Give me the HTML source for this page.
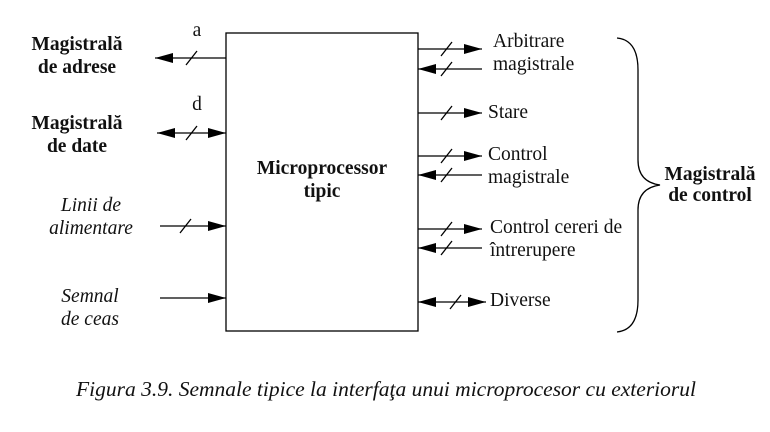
<!DOCTYPE html>
<html><head><meta charset="utf-8"><style>
body{margin:0;background:#fff}
svg{display:block}
text{font-family:"Liberation Serif",serif;fill:#111}
.b{font-weight:bold;font-size:19.5px}
.i{font-style:italic;font-size:19.5px}
.n{font-size:19.5px}
</style></head><body>
<svg width="770" height="432" viewBox="0 0 770 432">
<defs>
<marker id="a" markerWidth="18" markerHeight="10" refX="18" refY="5" orient="auto-start-reverse" markerUnits="userSpaceOnUse"><path d="M0,0 L18,5 L0,10 Z" fill="#000"/></marker>
</defs>
<g stroke="#000" stroke-width="1.3" fill="none">
<rect x="226" y="33" width="192" height="298"/>
<line x1="226" y1="58" x2="155" y2="58" marker-end="url(#a)"/>
<line x1="186" y1="65" x2="197" y2="51"/>
<line x1="157" y1="133" x2="226" y2="133" marker-start="url(#a)" marker-end="url(#a)"/>
<line x1="186" y1="140" x2="197" y2="126"/>
<line x1="160" y1="226" x2="226" y2="226" marker-end="url(#a)"/>
<line x1="180" y1="233" x2="191" y2="219"/>
<line x1="160" y1="298" x2="226" y2="298" marker-end="url(#a)"/>
<line x1="418" y1="49" x2="482" y2="49" marker-end="url(#a)"/>
<line x1="441" y1="56" x2="452" y2="42"/>
<line x1="482" y1="69" x2="418" y2="69" marker-end="url(#a)"/>
<line x1="441" y1="76" x2="452" y2="62"/>
<line x1="418" y1="113" x2="482" y2="113" marker-end="url(#a)"/>
<line x1="441" y1="120" x2="452" y2="106"/>
<line x1="418" y1="156" x2="482" y2="156" marker-end="url(#a)"/>
<line x1="441" y1="163" x2="452" y2="149"/>
<line x1="482" y1="175" x2="418" y2="175" marker-end="url(#a)"/>
<line x1="441" y1="182" x2="452" y2="168"/>
<line x1="418" y1="229" x2="482" y2="229" marker-end="url(#a)"/>
<line x1="441" y1="236" x2="452" y2="222"/>
<line x1="482" y1="248" x2="418" y2="248" marker-end="url(#a)"/>
<line x1="441" y1="255" x2="452" y2="241"/>
<line x1="418" y1="302" x2="486" y2="302" marker-start="url(#a)" marker-end="url(#a)"/>
<line x1="450" y1="309" x2="461" y2="295"/>
<path d="M617,38 Q638,40 638,70 L638,160 Q638,182 660,185 Q638,188 638,210 L638,300 Q638,330 617,332"/>
</g>
<text x="197" y="36" class="n" text-anchor="middle">a</text>
<text x="197" y="110" class="n" text-anchor="middle">d</text>
<text x="77" y="50" class="b" text-anchor="middle">Magistrală</text>
<text x="77" y="73" class="b" text-anchor="middle">de adrese</text>
<text x="77" y="129" class="b" text-anchor="middle">Magistrală</text>
<text x="77" y="152" class="b" text-anchor="middle">de date</text>
<text x="91" y="211" class="i" text-anchor="middle">Linii de</text>
<text x="91" y="234" class="i" text-anchor="middle">alimentare</text>
<text x="90" y="302" class="i" text-anchor="middle">Semnal</text>
<text x="90" y="325" class="i" text-anchor="middle">de ceas</text>
<text x="322" y="174" class="b" text-anchor="middle">Microprocessor</text>
<text x="322" y="197" class="b" text-anchor="middle">tipic</text>
<text x="493" y="47" class="n">Arbitrare</text>
<text x="493" y="70" class="n">magistrale</text>
<text x="488" y="118" class="n">Stare</text>
<text x="488" y="160" class="n">Control</text>
<text x="488" y="183" class="n">magistrale</text>
<text x="490" y="233" class="n">Control cereri de</text>
<text x="490" y="256" class="n">întrerupere</text>
<text x="490" y="306" class="n">Diverse</text>
<text x="710" y="180" class="b" text-anchor="middle">Magistrală</text>
<text x="710" y="201" class="b" text-anchor="middle">de control</text>
<text x="386" y="396" class="i" style="font-size:21.5px" text-anchor="middle">Figura 3.9. Semnale tipice la interfaţa unui microprocesor cu exteriorul</text>
</svg>
</body></html>
